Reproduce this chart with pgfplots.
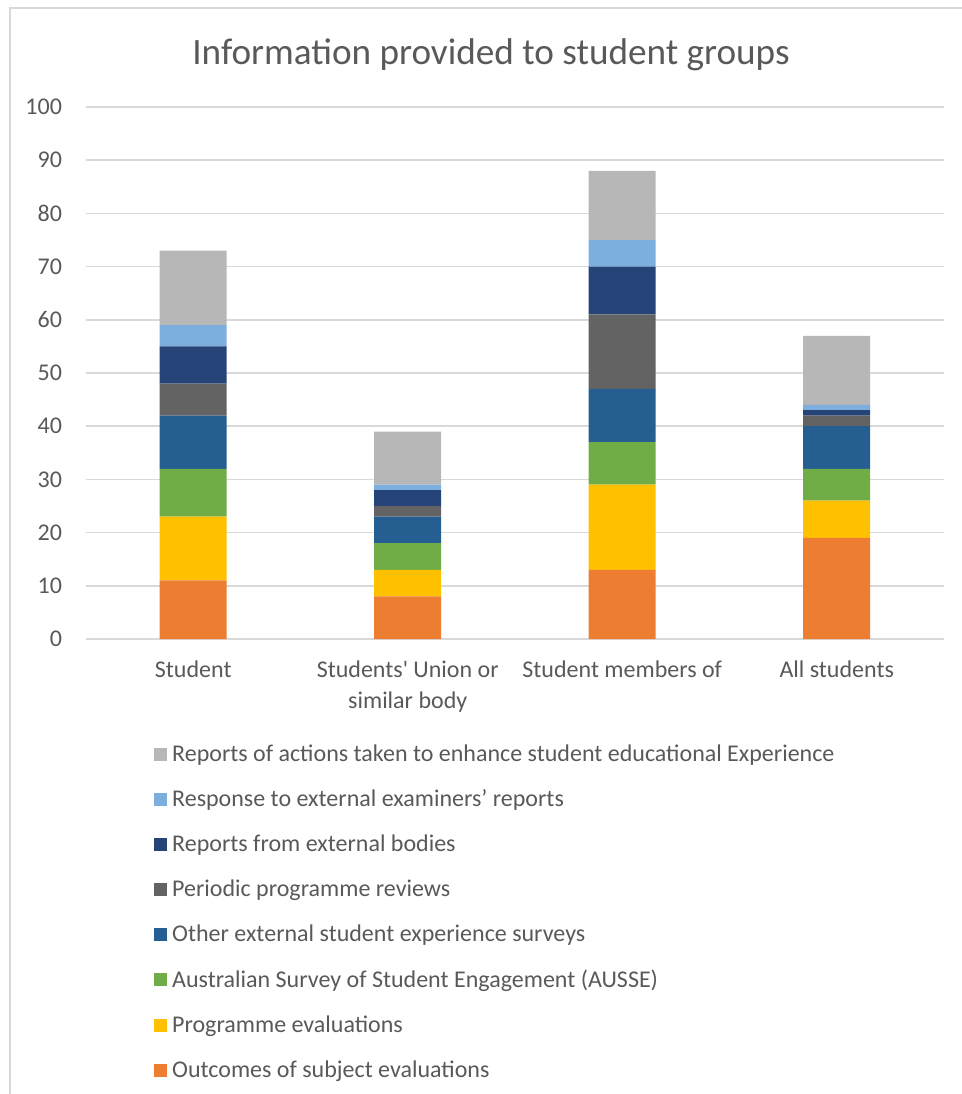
\documentclass[border=0pt]{standalone}
\usepackage{pgfplots}
\pgfplotsset{compat=1.18}
\usepackage{fontspec}
\setmainfont{Carlito}
\definecolor{c1}{HTML}{ED7D31}
\definecolor{c2}{HTML}{FFC000}
\definecolor{c3}{HTML}{70AD47}
\definecolor{c4}{HTML}{255E91}
\definecolor{c5}{HTML}{636363}
\definecolor{c6}{HTML}{264478}
\definecolor{c7}{HTML}{7CAFDD}
\definecolor{c8}{HTML}{B7B7B7}
\definecolor{txt}{HTML}{595959}
\definecolor{gridc}{HTML}{D9D9D9}
\begin{document}
\begin{tikzpicture}[x=1pt,y=1pt]
\path[use as bounding box] (0,0) rectangle (481,547);
\draw[gridc, line width=0.9pt] (5,0) -- (5,543) -- (481,543);
\node[txt, font=\fontsize{18.6}{22}\selectfont] at (245.5,519.5) {Information provided to student groups};
\begin{axis}[
  at={(43pt,227.5pt)}, anchor=south west,
  scale only axis, width=429pt, height=266pt,
  xmin=-0.5, xmax=3.5, ymin=0, ymax=100,
  ytick={0,10,...,100}, xtick={0,1,2,3},
  xticklabels={{Student},{Students\textquotesingle\ Union or\\similar body},{Student members of},{All students}},
  xticklabel style={align=center, font=\fontsize{12}{15.5}\selectfont, text=txt, yshift=-7.5pt},
  yticklabel style={font=\fontsize{12}{14}\selectfont, text=txt, xshift=-8.5pt},
  /pgf/number format/assume math mode=true,
  major tick length=0pt,
  axis line style={draw=none},
  ymajorgrids, grid style={gridc, line width=0.75pt},
  ybar stacked, bar width=33.5pt,
  reverse legend,
  legend cell align=left,
  legend style={at={(0.079,-0.19)}, anchor=north west, draw=none, fill=none,
    inner sep=0pt, row sep=8.65pt, font=\fontsize{12}{14}\selectfont, text=txt,
    nodes={inner xsep=2.5pt}},
  legend image code/.code={\path[#1, draw=none] (0pt,-3.2pt) rectangle (6.5pt,3.2pt);},
]
\addplot[fill=c1, draw=none] coordinates {(0,11) (1,8) (2,13) (3,19)};
\addplot[fill=c2, draw=none] coordinates {(0,12) (1,5) (2,16) (3,7)};
\addplot[fill=c3, draw=none] coordinates {(0,9) (1,5) (2,8) (3,6)};
\addplot[fill=c4, draw=none] coordinates {(0,10) (1,5) (2,10) (3,8)};
\addplot[fill=c5, draw=none] coordinates {(0,6) (1,2) (2,14) (3,2)};
\addplot[fill=c6, draw=none] coordinates {(0,7) (1,3) (2,9) (3,1)};
\addplot[fill=c7, draw=none] coordinates {(0,4) (1,1) (2,5) (3,1)};
\addplot[fill=c8, draw=none] coordinates {(0,14) (1,10) (2,13) (3,13)};
\legend{Outcomes of subject evaluations, Programme evaluations, Australian Survey of Student Engagement (AUSSE), Other external student experience surveys, Periodic programme reviews, Reports from external bodies, Response to external examiners’ reports, Reports of actions taken to enhance student educational Experience}
\end{axis}
\end{tikzpicture}
\end{document}
